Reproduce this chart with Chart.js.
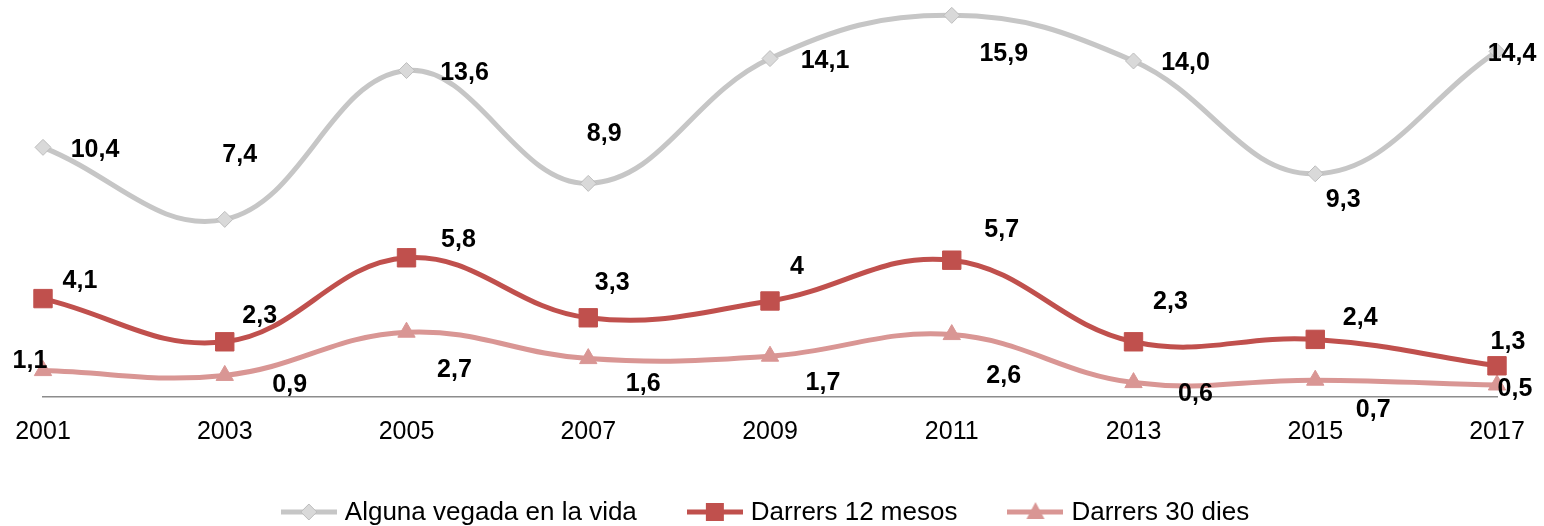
<!DOCTYPE html>
<html>
<head>
<meta charset="utf-8">
<script src="https://cdn.jsdelivr.net/npm/chart.js@4.4.1/dist/chart.umd.min.js"></script>
<style>
  html, body { margin: 0; padding: 0; background: #fff; }
  #wrap { width: 1544px; height: 526px; }
</style>
</head>
<body>
<div id="wrap"><canvas id="chart"></canvas></div>
<script>
// Survey years
const years = ['2001', '2003', '2005', '2007', '2009', '2011', '2013', '2015', '2017'];

// Series values (%)
const algunaVegada = [10.4, 7.4, 13.6, 8.9, 14.1, 15.9, 14.0, 9.3, 14.4];
const darrers12 = [4.1, 2.3, 5.8, 3.3, 4, 5.7, 2.3, 2.4, 1.3];
const darrers30 = [1.1, 0.9, 2.7, 1.6, 1.7, 2.6, 0.6, 0.7, 0.5];

// Label text as printed (Catalan decimal comma)
const labelsVegada = ['10,4', '7,4', '13,6', '8,9', '14,1', '15,9', '14,0', '9,3', '14,4'];
const labels12 = ['4,1', '2,3', '5,8', '3,3', '4', '5,7', '2,3', '2,4', '1,3'];
const labels30 = ['1,1', '0,9', '2,7', '1,6', '1,7', '2,6', '0,6', '0,7', '0,5'];

// Where each value label sits relative to its point (px)
const offsetsVegada = [[52, 3], [15, -64], [58, 3], [16, -49], [55, 3], [52, 39], [52, 2], [28, 26], [15, 3]];
const offsets12 = [[37, -17], [35, -26], [52, -18], [24, -35], [27, -34], [50, -30], [37, -40], [45, -21], [11, -24]];
const offsets30 = [[-13, -9], [65, 10], [48, 38], [55, 26], [53, 27], [52, 42], [62, 12], [58, 30], [18, 4]];

const FONT = '"Liberation Sans", Arial, sans-serif';

// legend sample: short line with the marker in the middle
function legendSample(color, drawMarker) {
    const c = document.createElement('canvas');
    c.width = 56;
    c.height = 22;
    const g = c.getContext('2d');
    g.strokeStyle = color;
    g.lineWidth = 5;
    g.beginPath();
    g.moveTo(0, 11);
    g.lineTo(56, 11);
    g.stroke();
    drawMarker(g, 28, 11);
    return c;
}

const sampleVegada = legendSample('#c6c6c6', (g, x, y) => {
    g.fillStyle = '#d9d9d9';
    g.strokeStyle = '#bdbdbd';
    g.lineWidth = 1;
    g.beginPath();
    g.moveTo(x, y - 8); g.lineTo(x + 8, y); g.lineTo(x, y + 8); g.lineTo(x - 8, y);
    g.closePath();
    g.fill(); g.stroke();
});
const sample12 = legendSample('#c0504d', (g, x, y) => {
    g.fillStyle = '#c0504d';
    g.fillRect(x - 9, y - 9, 18, 18);
});
const sample30 = legendSample('#d99694', (g, x, y) => {
    g.fillStyle = '#d99694';
    g.beginPath();
    g.moveTo(x, y - 10); g.lineTo(x + 9, y + 7); g.lineTo(x - 9, y + 7);
    g.closePath();
    g.fill();
});

// bold value labels next to each point
const valueLabels = {
    id: 'valueLabels',
    afterDatasetsDraw(chart) {
        const ctx = chart.ctx;
        ctx.save();
        ctx.font = 'bold 25px ' + FONT;
        ctx.fillStyle = '#000';
        ctx.textAlign = 'center';
        ctx.textBaseline = 'middle';
        chart.data.datasets.forEach((ds, i) => {
            const meta = chart.getDatasetMeta(i);
            meta.data.forEach((pt, j) => {
                const off = ds.labelOffsets[j];
                ctx.fillText(ds.valueText[j], pt.x + off[0], pt.y + off[1]);
            });
        });
        ctx.restore();
    }
};

// legend row at the bottom: line sample + text, centred
const bottomLegend = {
    id: 'bottomLegend',
    afterDraw(chart) {
        const ctx = chart.ctx;
        const y = 512;
        const gapText = 8, gapItem = 50;
        ctx.save();
        ctx.font = '26px ' + FONT;
        ctx.fillStyle = '#000';
        ctx.textBaseline = 'middle';
        const items = chart.data.datasets.map(ds => ({
            img: ds.legendImage, text: ds.label, w: ctx.measureText(ds.label).width
        }));
        let total = 0;
        items.forEach((it, i) => { total += 56 + gapText + it.w + (i ? gapItem : 0); });
        let x = (chart.width - total) / 2 - 7;
        items.forEach(it => {
            ctx.drawImage(it.img, x, y - 11);
            x += 56 + gapText;
            ctx.fillText(it.text, x, y + 1);
            x += it.w + gapItem;
        });
        ctx.restore();
    }
};

new Chart(document.getElementById('chart'), {
    type: 'line',
    data: {
        labels: years,
        datasets: [
            {
                label: 'Alguna vegada en la vida',
                data: algunaVegada,
                valueText: labelsVegada,
                labelOffsets: offsetsVegada,
                borderColor: '#c6c6c6',
                borderWidth: 5,
                pointStyle: 'rectRot',
                pointRadius: 8,
                pointBackgroundColor: '#d9d9d9',
                pointBorderColor: '#bdbdbd',
                pointBorderWidth: 1,
                legendImage: sampleVegada,
                tension: 0.4,
                clip: false
            },
            {
                label: 'Darrers 12 mesos',
                data: darrers12,
                valueText: labels12,
                labelOffsets: offsets12,
                borderColor: '#c0504d',
                borderWidth: 5,
                pointStyle: 'rect',
                pointRadius: 13,
                pointBackgroundColor: '#c0504d',
                pointBorderColor: '#c0504d',
                pointBorderWidth: 1,
                legendImage: sample12,
                tension: 0.4,
                clip: false
            },
            {
                label: 'Darrers 30 dies',
                data: darrers30,
                valueText: labels30,
                labelOffsets: offsets30,
                borderColor: '#d99694',
                borderWidth: 5,
                pointStyle: 'triangle',
                pointRadius: 10,
                pointBackgroundColor: '#d99694',
                pointBorderColor: '#d99694',
                pointBorderWidth: 1,
                legendImage: sample30,
                tension: 0.4,
                clip: false
            }
        ]
    },
    options: {
        responsive: true,
        maintainAspectRatio: false,
        animation: false,
        layout: {
            autoPadding: false,
            padding: { left: 43, right: 47, top: 0, bottom: 59 }
        },
        scales: {
            x: {
                offset: false,
                grid: { display: true, drawOnChartArea: false, drawTicks: false },
                border: { display: true, color: '#8c8c8c', width: 1.5 },
                ticks: {
                    color: '#000',
                    font: { family: FONT, size: 25 },
                    padding: 20,
                    maxRotation: 0,
                    autoSkip: false
                },
                // let the layout padding alone decide the plot's left/right edges
                afterFit(scale) {
                    scale.paddingLeft = 0;
                    scale.paddingRight = 0;
                }
            },
            y: {
                display: false,
                min: 0,
                max: 16.54
            }
        },
        plugins: {
            tooltip: { enabled: false },
            legend: { display: false }
        }
    },
    plugins: [valueLabels, bottomLegend]
});
</script>
</body>
</html>
